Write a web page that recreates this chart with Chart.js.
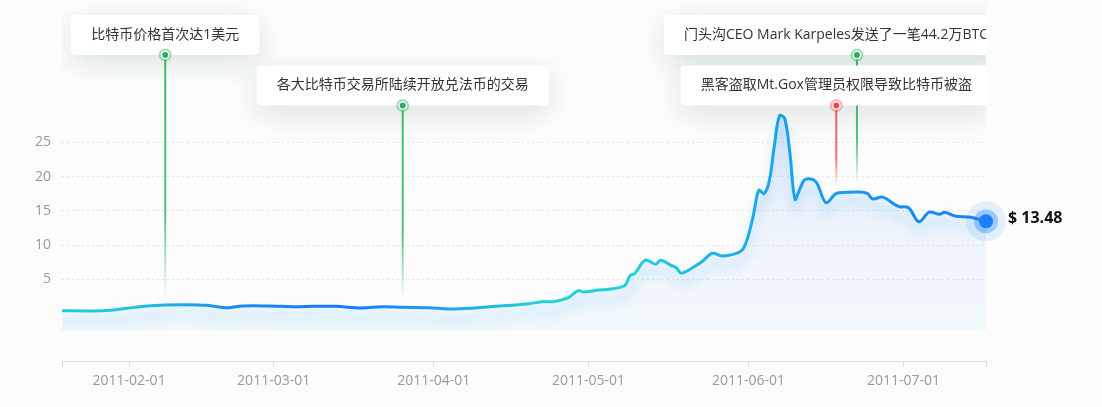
<!DOCTYPE html>
<html>
<head>
<meta charset="utf-8">
<script src="https://cdn.jsdelivr.net/npm/chart.js@4.4.0/dist/chart.umd.min.js"></script>
<style>
  html, body { margin: 0; padding: 0; background: #fcfcfc; }
  #wrap { width: 1102px; height: 407px; position: relative; }
</style>
</head>
<body>
<div id="wrap"><canvas id="btc"></canvas></div>
<script>
// price history (USD)
const dates = [
  '2011-01-19','2011-01-25','2011-01-29','2011-02-01','2011-02-04','2011-02-08','2011-02-12','2011-02-16',
  '2011-02-20','2011-02-23','2011-02-28','2011-03-05','2011-03-09','2011-03-13','2011-03-18','2011-03-22',
  '2011-03-26','2011-03-31','2011-04-04','2011-04-09','2011-04-13','2011-04-19','2011-04-22','2011-04-24',
  '2011-04-27','2011-04-29','2011-04-30','2011-05-03','2011-05-05','2011-05-08','2011-05-09','2011-05-10',
  '2011-05-12','2011-05-14','2011-05-15','2011-05-17','2011-05-18','2011-05-19','2011-05-22','2011-05-23',
  '2011-05-25','2011-05-27','2011-05-30','2011-05-31','2011-06-01','2011-06-02','2011-06-03','2011-06-04',
  '2011-06-05','2011-06-06','2011-06-07','2011-06-08','2011-06-09','2011-06-10','2011-06-11','2011-06-12',
  '2011-06-14','2011-06-16','2011-06-18','2011-06-20','2011-06-22','2011-06-24','2011-06-25','2011-06-27',
  '2011-06-30','2011-07-02','2011-07-04','2011-07-06','2011-07-08','2011-07-09','2011-07-11','2011-07-14',
  '2011-07-17'
];
const prices = [
  0.42, 0.38, 0.53, 0.82, 1.07, 1.26, 1.30, 1.21,
  0.86, 1.11, 1.11, 1.01, 1.06, 1.06, 0.82, 1.01,
  0.92, 0.87, 0.67, 0.82, 1.06, 1.40, 1.74, 1.74,
  2.30, 3.35, 3.15, 3.45, 3.55, 4.10, 5.50, 5.90,
  7.80, 7.20, 7.80, 7.05, 6.70, 5.90, 7.10, 7.60,
  8.80, 8.40, 8.90, 9.50, 11.50, 14.60, 18.00, 17.50,
  19.30, 24.50, 28.90, 28.50, 23.50, 16.70, 18.30, 19.60,
  19.30, 16.20, 17.55, 17.70, 17.75, 17.55, 16.75, 17.00,
  15.65, 15.45, 13.40, 14.80, 14.50, 14.80, 14.25, 14.05,
  13.48
];

const yTicks = [5, 10, 15, 20, 25];
const monthTicks = ['2011-02-01','2011-03-01','2011-04-01','2011-05-01','2011-06-01','2011-07-01'];

// events (good news / bad news)
const eventDates = ['2011-02-08', '2011-03-26', '2011-06-22', '2011-06-18'];
const eventTexts = [
  '比特币价格首次达1美元',
  '各大比特币交易所陆续开放兑法币的交易',
  '门头沟CEO Mark Karpeles发送了一笔44.2万BTC的交易',
  '黑客盗取Mt.Gox管理员权限导致比特币被盗'
];
const eventKinds = ['good', 'good', 'good', 'bad'];

const FONT = "'Open Sans','Noto Sans CJK SC',sans-serif";
Chart.defaults.font.family = FONT;

const xTime = dates.map(d => Date.parse(d));
const monthTime = monthTicks.map(d => Date.parse(d));

function priceAt(t) {
  for (let i = 0; i < xTime.length - 1; i++) {
    if (t >= xTime[i] && t <= xTime[i + 1]) {
      const f = (t - xTime[i]) / (xTime[i + 1] - xTime[i]);
      return prices[i] + (prices[i + 1] - prices[i]) * f;
    }
  }
  return prices[prices.length - 1];
}

function lineGradient(ctx, a) {
  const g = ctx.createLinearGradient(a.left, 0, a.right, 0);
  g.addColorStop(0, '#22cfd8');
  g.addColorStop(0.08, '#1fc3de');
  g.addColorStop(0.18, '#1a8cf4');
  g.addColorStop(0.3, '#1677ff');
  g.addColorStop(0.4, '#1a9cf0');
  g.addColorStop(0.52, '#22d2d8');
  g.addColorStop(0.62, '#22cfda');
  g.addColorStop(0.72, '#1cb0e8');
  g.addColorStop(0.8, '#19a0ee');
  g.addColorStop(0.9, '#1890f5');
  g.addColorStop(1, '#1a80f8');
  return g;
}

function fillGradient(ctx, a) {
  const g = ctx.createLinearGradient(0, a.top + 90, 0, a.bottom - 30);
  g.addColorStop(0, 'rgba(40,110,250,0.16)');
  g.addColorStop(0.6, 'rgba(40,130,250,0.06)');
  g.addColorStop(1, 'rgba(40,170,240,0.05)');
  return g;
}

const glow = {
  id: 'glow',
  beforeDatasetDraw(chart) {
    const c = chart.ctx;
    c.save();
    c.shadowColor = 'rgba(30,160,235,0.35)';
    c.shadowBlur = 12;
    c.shadowOffsetY = 10;
  },
  afterDatasetDraw(chart) {
    chart.ctx.restore();
  }
};

const events = {
  id: 'events',
  afterDatasetsDraw(chart) {
    const { ctx, chartArea: a, scales: { x, y } } = chart;
    ctx.save();
    ctx.beginPath();
    ctx.rect(a.left, 0, a.right - a.left, a.bottom);
    ctx.clip();
    ctx.font = '14px ' + FONT;
    eventDates.forEach((d, i) => {
      const t = Date.parse(d);
      const px = x.getPixelForValue(t);
      const top = i % 2 === 0 ? 15 : 65.5;
      const h = 40;
      const bottom = top + h;
      const good = eventKinds[i] === 'good';
      const col = good ? '61,187,114' : '246,91,91';
      const endY = y.getPixelForValue(priceAt(t)) - 8;

      // stem
      const g = ctx.createLinearGradient(0, bottom, 0, endY);
      g.addColorStop(0, 'rgba(' + col + ',1)');
      g.addColorStop(0.65, 'rgba(' + col + ',0.9)');
      g.addColorStop(1, 'rgba(' + col + ',0)');
      ctx.strokeStyle = g;
      ctx.lineWidth = 2;
      ctx.beginPath();
      ctx.moveTo(px, bottom);
      ctx.lineTo(px, endY);
      ctx.stroke();

      // box
      const tw = ctx.measureText(eventTexts[i]).width;
      const w = tw + 40;
      ctx.save();
      ctx.shadowColor = 'rgba(40,100,70,0.16)';
      ctx.shadowBlur = 30;
      ctx.shadowOffsetY = 8;
      ctx.fillStyle = '#fff';
      ctx.beginPath();
      ctx.roundRect(px - w / 2, top, w, h, 4);
      ctx.fill();
      ctx.restore();
      ctx.fillStyle = '#333';
      ctx.textAlign = 'center';
      ctx.textBaseline = 'middle';
      ctx.fillText(eventTexts[i], px, top + h / 2);

      // marker
      ctx.fillStyle = 'rgba(' + col + ',0.45)';
      ctx.beginPath(); ctx.arc(px, bottom, 6.5, 0, Math.PI * 2); ctx.fill();
      ctx.fillStyle = '#fff';
      ctx.beginPath(); ctx.arc(px, bottom, 4.3, 0, Math.PI * 2); ctx.fill();
      ctx.fillStyle = good ? '#2eae62' : '#f5474d';
      ctx.beginPath(); ctx.arc(px, bottom, 3, 0, Math.PI * 2); ctx.fill();
    });
    ctx.restore();
  }
};

const lastPoint = {
  id: 'lastPoint',
  afterDatasetsDraw(chart) {
    const ctx = chart.ctx;
    const meta = chart.getDatasetMeta(0);
    const pt = meta.data[meta.data.length - 1];
    ctx.save();
    ctx.fillStyle = 'rgba(24,128,255,0.10)';
    ctx.beginPath(); ctx.arc(pt.x, pt.y, 20, 0, Math.PI * 2); ctx.fill();
    ctx.fillStyle = 'rgba(24,128,255,0.35)';
    ctx.beginPath(); ctx.arc(pt.x, pt.y, 12, 0, Math.PI * 2); ctx.fill();
    ctx.fillStyle = '#1a7ff8';
    ctx.beginPath(); ctx.arc(pt.x, pt.y, 7, 0, Math.PI * 2); ctx.fill();
    ctx.fillStyle = '#111';
    ctx.font = 'bold 16px ' + FONT;
    ctx.textAlign = 'left';
    ctx.textBaseline = 'middle';
    ctx.fillText('$ ' + prices[prices.length - 1].toFixed(2), pt.x + 22, pt.y - 3);
    ctx.restore();
  }
};

new Chart(document.getElementById('btc'), {
  type: 'line',
  data: {
    datasets: [{
      data: xTime.map((t, i) => ({ x: t, y: prices[i] })),
      borderWidth: 3,
      tension: 0.35,
      pointRadius: 0,
      borderColor: c => c.chart.chartArea ? lineGradient(c.chart.ctx, c.chart.chartArea) : '#1890ff',
      backgroundColor: c => c.chart.chartArea ? fillGradient(c.chart.ctx, c.chart.chartArea) : 'rgba(24,144,255,0.1)',
      fill: { value: -2.5 }
    }]
  },
  options: {
    responsive: true,
    maintainAspectRatio: false,
    animation: false,
    layout: { padding: { left: 0, right: 116, top: 5, bottom: 0 } },
    plugins: { legend: { display: false }, tooltip: { enabled: false } },
    scales: {
      x: {
        type: 'linear',
        min: xTime[0],
        max: xTime[xTime.length - 1],
        afterBuildTicks: s => { s.ticks = [xTime[0], ...monthTime, xTime[xTime.length - 1]].map(v => ({ value: v })); },
        afterFit: s => { s.height = 46; s.paddingLeft = 0; s.paddingRight = 0; },
        grid: { drawOnChartArea: false, drawTicks: true, tickLength: 6, color: '#dcdcdc' },
        border: { display: true, color: '#dcdcdc' },
        ticks: {
          autoSkip: false,
          maxRotation: 0,
          padding: 6,
          color: '#999',
          font: { size: 14 },
          callback: v => monthTime.includes(v) ? new Date(v).toISOString().slice(0, 10) : ''
        }
      },
      y: {
        min: -6.92,
        max: 45.05,
        afterBuildTicks: s => { s.ticks = yTicks.map(v => ({ value: v })); },
        afterFit: s => { s.width = 62; s.paddingTop = 0; s.paddingBottom = 0; },
        grid: { drawTicks: false, color: '#e4e4e4' },
        border: { display: false, dash: [2, 3] },
        ticks: { padding: 11, color: '#999', font: { size: 14 } }
      }
    }
  },
  plugins: [glow, events, lastPoint]
});
</script>
</body>
</html>
